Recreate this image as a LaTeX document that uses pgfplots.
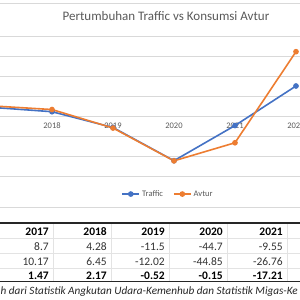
\documentclass[border=0pt]{standalone}
\usepackage{pgfplots}
\pgfplotsset{compat=1.18}
\usepackage{fontspec}
\setmainfont{Carlito}
\definecolor{tr}{HTML}{4472C4}
\definecolor{av}{HTML}{ED7D31}
\definecolor{grd}{HTML}{D9D9D9}
\definecolor{txt}{HTML}{595959}
\definecolor{cell}{HTML}{E3E3E3}
\begin{document}
\begin{tikzpicture}[x=1pt,y=1pt]
\path[use as bounding box] (0,0) rectangle (300,300);
\clip (0,0) rectangle (300,300);
% chart border
\draw[grd, line width=0.8pt] (-5,297) -- (305,297);
\draw[grd, line width=0.8pt] (-5,92.5) -- (305,92.5);
\begin{axis}[
  at={(-39.5pt,124pt)}, anchor=south west,
  scale only axis, width=366pt, height=140pt,
  xmin=-0.5, xmax=5.5, ymin=-60, ymax=80,
  axis x line=middle, axis y line=left,
  x axis line style={-, draw=grd, line width=0.8pt},
  y axis line style={draw=none},
  xtick={1,2,3,4,5}, xticklabels={2018,2019,2020,2021,2022},
  major tick length=0pt,
  xticklabel style={font=\fontsize{8.5}{10}\selectfont, text=txt, yshift=-3.5pt},
  ytick={-60,-40,-20,0,20,40,60,80}, yticklabels={},
  ymajorgrids, grid style={grd, line width=0.8pt},
  /pgf/number format/assume math mode=true,
  legend style={draw=none, fill=none, font=\fontsize{8.5}{10}\selectfont, text=txt,
    at={(0.567,-0.129)}, anchor=center, legend columns=2,
    /tikz/every even column/.append style={column sep=8pt}},
]
\addplot[tr, line width=1.6pt, mark=*, mark size=2pt, mark options={fill=tr, draw=tr}]
  coordinates {(0,8.7) (1,4.28) (2,-11.5) (3,-44.7) (4,-9.55) (5,30)};
\addlegendentry{Traffic}
\addplot[av, line width=1.6pt, mark=*, mark size=2pt, mark options={fill=av, draw=av}]
  coordinates {(0,10.17) (1,6.45) (2,-12.02) (3,-44.85) (4,-26.76) (5,64.3)};
\addlegendentry{Avtur}
\end{axis}
% title
\node[text=txt, font=\fontsize{13}{15}\selectfont] at (166,284) {Pertumbuhan Traffic vs Konsumsi Avtur};
% table grid
\foreach \yy in {62,47,32} \draw[cell, line width=0.5pt] (-5,\yy) -- (305,\yy);
\foreach \xx in {53,111,169,227,287} \draw[cell, line width=0.5pt] (\xx,18.5) -- (\xx,77);
\draw[black!85, line width=1.4pt] (-5,77) -- (305,77);
\draw[black!85, line width=1.4pt] (-5,18.5) -- (305,18.5);
% table text
\begin{scope}[every node/.style={anchor=east, inner sep=0pt, font=\fontsize{11.5}{13}\selectfont}]
\node[font=\fontsize{11.5}{13}\selectfont\bfseries] at (49,68) {2017};
\node[font=\fontsize{11.5}{13}\selectfont\bfseries] at (107,68) {2018};
\node[font=\fontsize{11.5}{13}\selectfont\bfseries] at (165,68) {2019};
\node[font=\fontsize{11.5}{13}\selectfont\bfseries] at (223,68) {2020};
\node[font=\fontsize{11.5}{13}\selectfont\bfseries] at (283,68) {2021};
\node[text=black!80] at (49,53) {8.7};
\node[text=black!80] at (107,53) {4.28};
\node[text=black!80] at (165,53) {-11.5};
\node[text=black!80] at (223,53) {-44.7};
\node[text=black!80] at (283,53) {-9.55};
\node[text=black!80] at (49,38) {10.17};
\node[text=black!80] at (107,38) {6.45};
\node[text=black!80] at (165,38) {-12.02};
\node[text=black!80] at (223,38) {-44.85};
\node[text=black!80] at (283,38) {-26.76};
\node[font=\fontsize{11.5}{13}\selectfont\bfseries] at (49,24) {1.47};
\node[font=\fontsize{11.5}{13}\selectfont\bfseries] at (107,24) {2.17};
\node[font=\fontsize{11.5}{13}\selectfont\bfseries] at (165,24) {-0.52};
\node[font=\fontsize{11.5}{13}\selectfont\bfseries] at (223,24) {-0.15};
\node[font=\fontsize{11.5}{13}\selectfont\bfseries] at (283,24) {-17.21};
\end{scope}
% caption
\node[anchor=west, inner sep=0pt, text=black!85, font=\fontsize{11.2}{13}\selectfont\itshape] at (0.5,8.5)
  {h dari Statistik Angkutan Udara-Kemenhub dan Statistik Migas-Ke};
\end{tikzpicture}
\end{document}
